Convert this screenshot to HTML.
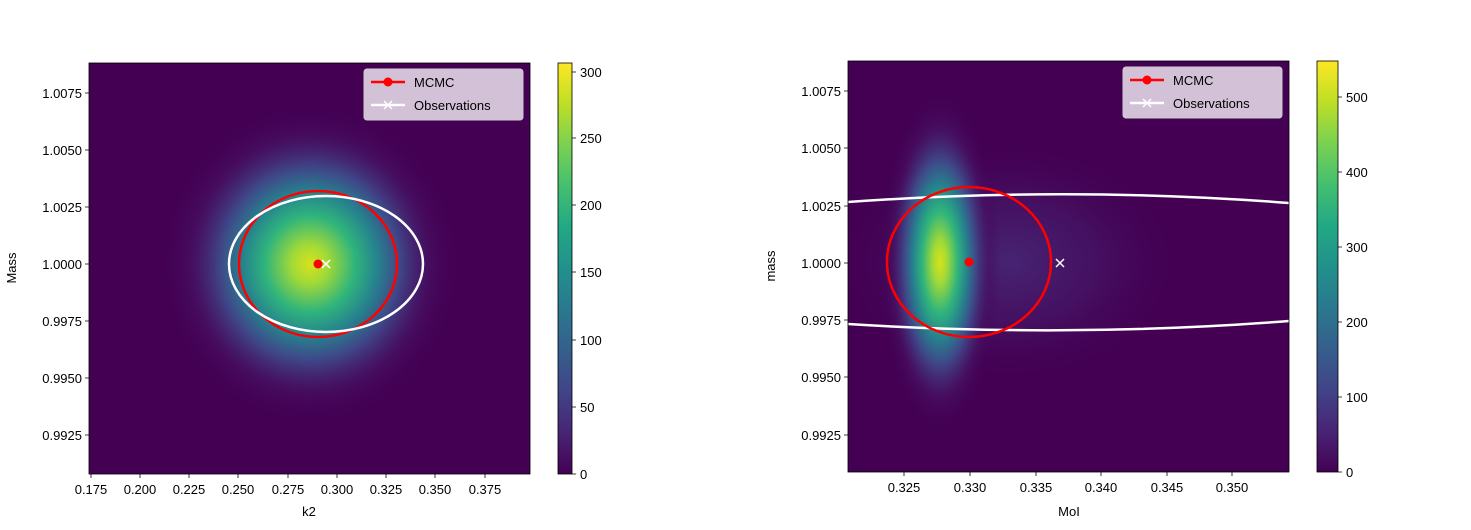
<!DOCTYPE html>
<html><head><meta charset="utf-8"><style>body{margin:0;background:#fff}svg{display:block}text{font-family:"Liberation Sans",sans-serif;font-size:13px;fill:#000}</style></head><body>
<svg width="1471" height="530" viewBox="0 0 1471 530" xmlns="http://www.w3.org/2000/svg">
<defs>
<radialGradient id="g" cx="0.5" cy="0.5" r="0.5">
<stop offset="0" stop-color="#d8e219"/><stop offset="0.12" stop-color="#a2da37"/><stop offset="0.3" stop-color="#2fb47c"/><stop offset="0.45" stop-color="#26828e"/><stop offset="0.6" stop-color="#3f4788"/><stop offset="0.8" stop-color="#471365" stop-opacity="0.6"/><stop offset="1" stop-color="#440154" stop-opacity="0"/>
</radialGradient>
<radialGradient id="t" cx="0.5" cy="0.5" r="0.5">
<stop offset="0" stop-color="#472d7b" stop-opacity="0.8"/><stop offset="0.5" stop-color="#46206f" stop-opacity="0.5"/><stop offset="1" stop-color="#440154" stop-opacity="0"/>
</radialGradient>
<linearGradient id="cb" x1="0" y1="1" x2="0" y2="0">
<stop offset="0" stop-color="#440154"/><stop offset="0.1" stop-color="#482475"/><stop offset="0.2" stop-color="#414487"/><stop offset="0.3" stop-color="#355f8d"/><stop offset="0.4" stop-color="#2a788e"/><stop offset="0.5" stop-color="#21918c"/><stop offset="0.6" stop-color="#22a884"/><stop offset="0.7" stop-color="#44bf70"/><stop offset="0.8" stop-color="#7ad151"/><stop offset="0.9" stop-color="#bddf26"/><stop offset="1" stop-color="#fde725"/>
</linearGradient>
<clipPath id="c1"><rect x="89" y="63" width="441" height="411"/></clipPath>
<clipPath id="c2"><rect x="848" y="61" width="441" height="411"/></clipPath>
</defs>

<!-- LEFT -->
<rect x="89" y="63" width="441" height="411" fill="#440154"/>
<g clip-path="url(#c1)">
<ellipse cx="310" cy="264" rx="150" ry="160" fill="url(#g)"/>
<ellipse cx="318" cy="264" rx="79" ry="73" fill="none" stroke="#f00" stroke-width="2.5"/>
<ellipse cx="326" cy="264" rx="97" ry="68" fill="none" stroke="#fff" stroke-width="2.5"/>
<circle cx="318" cy="264" r="4.5" fill="#f00"/>
<path d="M322 260l8 8M330 260l-8 8" stroke="#fff" stroke-width="1.5"/>
</g>
<rect x="89" y="63" width="441" height="411" fill="none" stroke="#000" stroke-width="0.8"/>
<g stroke="#000" stroke-width="0.8">
<path d="M89 93h-4M89 150h-4M89 207h-4M89 264h-4M89 321h-4M89 378h-4M89 435h-4"/>
<path d="M91 474v4M140 474v4M189 474v4M238 474v4M288 474v4M337 474v4M386 474v4M435 474v4M485 474v4"/>
</g>
<g text-anchor="end">
<text x="82" y="98">1.0075</text><text x="82" y="155">1.0050</text><text x="82" y="212">1.0025</text><text x="82" y="269">1.0000</text><text x="82" y="326">0.9975</text><text x="82" y="383">0.9950</text><text x="82" y="440">0.9925</text>
</g>
<g text-anchor="middle">
<text x="91" y="494">0.175</text><text x="140" y="494">0.200</text><text x="189" y="494">0.225</text><text x="238" y="494">0.250</text><text x="288" y="494">0.275</text><text x="337" y="494">0.300</text><text x="386" y="494">0.325</text><text x="435" y="494">0.350</text><text x="485" y="494">0.375</text>
<text x="309" y="516">k2</text>
</g>
<text transform="translate(16,268) rotate(-90)" text-anchor="middle">Mass</text>
<rect x="364" y="69" width="159" height="51" rx="3" fill="#ebe3ef" fill-opacity="0.85" stroke="#ccc"/>
<path d="M371 82h34" stroke="#f00" stroke-width="2.5"/><circle cx="388" cy="82" r="4.5" fill="#f00"/>
<path d="M371 105h34" stroke="#fff" stroke-width="2.5"/><path d="M384 101l8 8M392 101l-8 8" stroke="#fff" stroke-width="1.5"/>
<text x="414" y="87">MCMC</text><text x="414" y="110">Observations</text>
<rect x="558" y="63" width="14" height="411" fill="url(#cb)" stroke="#000" stroke-width="0.8"/>
<g stroke="#000" stroke-width="0.8"><path d="M572 474h4M572 407h4M572 340h4M572 272h4M572 205h4M572 138h4M572 72h4"/></g>
<g><text x="580" y="479">0</text><text x="580" y="412">50</text><text x="580" y="345">100</text><text x="580" y="277">150</text><text x="580" y="210">200</text><text x="580" y="143">250</text><text x="580" y="77">300</text></g>

<!-- RIGHT -->
<rect x="848" y="61" width="441" height="411" fill="#440154"/>
<g clip-path="url(#c2)">
<ellipse cx="1010" cy="262" rx="170" ry="120" fill="url(#t)"/>
<ellipse cx="940" cy="262" rx="60" ry="170" fill="url(#g)"/>
<path d="M848 202 Q1070 186 1289 203" fill="none" stroke="#fff" stroke-width="2.5"/>
<path d="M848 324 Q1070 338 1289 321" fill="none" stroke="#fff" stroke-width="2.5"/>
<ellipse cx="969" cy="262" rx="82" ry="75" fill="none" stroke="#f00" stroke-width="2.5"/>
<circle cx="969" cy="262" r="4.5" fill="#f00"/>
<path d="M1056 259l8 8M1064 259l-8 8" stroke="#fff" stroke-width="1.5"/>
</g>
<rect x="848" y="61" width="441" height="411" fill="none" stroke="#000" stroke-width="0.8"/>
<g stroke="#000" stroke-width="0.8">
<path d="M848 91h-4M848 148h-4M848 206h-4M848 263h-4M848 320h-4M848 377h-4M848 435h-4"/>
<path d="M904 472v4M970 472v4M1036 472v4M1101 472v4M1167 472v4M1232 472v4"/>
</g>
<g text-anchor="end">
<text x="841" y="96">1.0075</text><text x="841" y="153">1.0050</text><text x="841" y="211">1.0025</text><text x="841" y="268">1.0000</text><text x="841" y="325">0.9975</text><text x="841" y="382">0.9950</text><text x="841" y="440">0.9925</text>
</g>
<g text-anchor="middle">
<text x="904" y="492">0.325</text><text x="970" y="492">0.330</text><text x="1036" y="492">0.335</text><text x="1101" y="492">0.340</text><text x="1167" y="492">0.345</text><text x="1232" y="492">0.350</text>
<text x="1069" y="516">MoI</text>
</g>
<text transform="translate(775,266) rotate(-90)" text-anchor="middle">mass</text>
<rect x="1123" y="67" width="159" height="51" rx="3" fill="#ebe3ef" fill-opacity="0.85" stroke="#ccc"/>
<path d="M1130 80h34" stroke="#f00" stroke-width="2.5"/><circle cx="1147" cy="80" r="4.5" fill="#f00"/>
<path d="M1130 103h34" stroke="#fff" stroke-width="2.5"/><path d="M1143 99l8 8M1151 99l-8 8" stroke="#fff" stroke-width="1.5"/>
<text x="1173" y="85">MCMC</text><text x="1173" y="108">Observations</text>
<rect x="1317" y="61" width="21" height="411" fill="url(#cb)" stroke="#000" stroke-width="0.8"/>
<g stroke="#000" stroke-width="0.8"><path d="M1338 472h4M1338 397h4M1338 322h4M1338 247h4M1338 172h4M1338 97h4"/></g>
<g><text x="1346" y="477">0</text><text x="1346" y="402">100</text><text x="1346" y="327">200</text><text x="1346" y="252">300</text><text x="1346" y="177">400</text><text x="1346" y="102">500</text></g>
</svg>
</body></html>
